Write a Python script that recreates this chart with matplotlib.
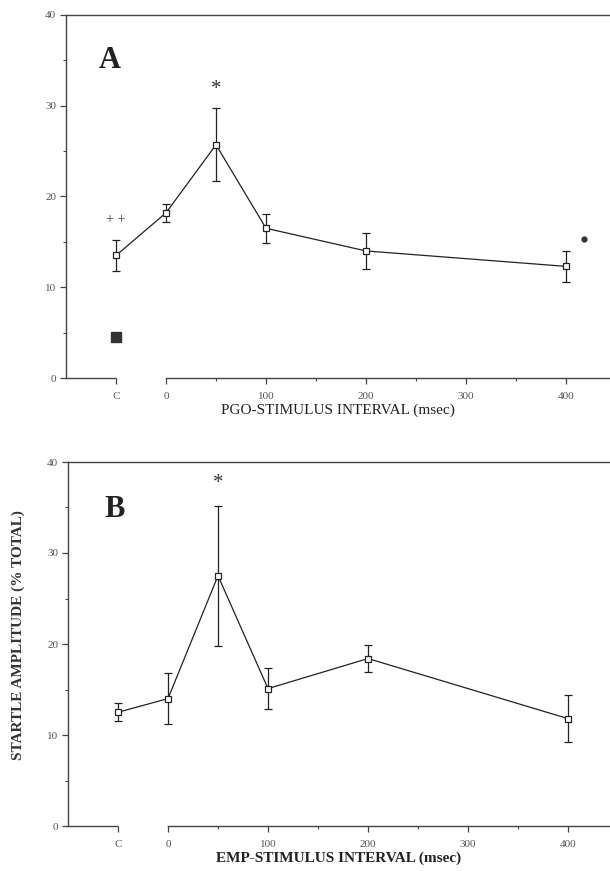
import matplotlib
matplotlib.use("Agg")
import matplotlib.pyplot as plt
from matplotlib.ticker import MultipleLocator, FixedLocator

# ---- data ----
tick_pos = [-50, 0, 100, 200, 300, 400]
tick_labels = ["C", "0", "100", "200", "300", "400"]

x_pts = [-50, 0, 50, 100, 200, 400]

a_mean = [13.5, 18.2, 25.7, 16.5, 14.0, 12.3]
a_err = [1.7, 1.0, 4.0, 1.6, 2.0, 1.7]
a_filled_x = [-50]
a_filled_y = [4.5]
a_speck_x = [418]
a_speck_y = [15.3]

b_mean = [12.5, 14.0, 27.5, 15.1, 18.4, 11.8]
b_err = [1.0, 2.8, 7.7, 2.25, 1.5, 2.6]

a_xlabel = "PGO-STIMULUS INTERVAL (msec)"
b_xlabel = "EMP-STIMULUS INTERVAL (msec)"
ylabel = "STARTLE AMPLITUDE (% TOTAL)"

SERIF = ["Liberation Serif", "DejaVu Serif"]
INK = "#222222"
TICKC = "#555555"

fig = plt.figure(figsize=(6.10, 8.71), dpi=100)
fig.patch.set_facecolor("white")

W, H = 610.0, 871.0


def make_ax(left_px, top_px, bottom_px, xleft, xright):
    ax = fig.add_axes([left_px / W, 1 - bottom_px / H, 1 - left_px / W,
                       (bottom_px - top_px) / H])
    ax.set_xlim(xleft, xright)
    ax.set_ylim(0, 40)
    ax.spines["right"].set_visible(False)
    for s in ("left", "top", "bottom"):
        ax.spines[s].set_color("#444444")
        ax.spines[s].set_linewidth(1.0)
    ax.spines["bottom"].set_bounds(0, xright)
    # extra bottom segment up to the control tick
    ax.plot([xleft, -50], [0, 0], color="#444444", lw=1.0, clip_on=False,
            solid_capstyle="butt")
    ax.xaxis.set_major_locator(FixedLocator(tick_pos))
    ax.set_xticklabels(tick_labels)
    ax.xaxis.set_minor_locator(FixedLocator([50, 150, 250, 350]))
    ax.yaxis.set_major_locator(MultipleLocator(10))
    ax.yaxis.set_minor_locator(MultipleLocator(5))
    ax.tick_params(axis="both", which="major", direction="out", length=4,
                   width=0.9, color="#444444", labelsize=8,
                   labelcolor=TICKC, pad=3)
    ax.tick_params(axis="both", which="minor", direction="out", length=2.5,
                   width=0.8, color="#444444")
    ax.tick_params(axis="x", which="major", pad=6)
    for lab in ax.get_xticklabels() + ax.get_yticklabels():
        lab.set_family(SERIF)
    return ax


def draw_series(ax, means, errs):
    ax.errorbar(x_pts, means, yerr=errs, color=INK, lw=0.9, elinewidth=0.9,
                capsize=3, capthick=0.9, marker="s", markersize=5,
                markerfacecolor="white", markeredgecolor=INK,
                markeredgewidth=0.9, zorder=3, clip_on=False)


# Panel A
axA = make_ax(66, 15, 378, -100, 444)
draw_series(axA, a_mean, a_err)
axA.plot(a_filled_x, a_filled_y, marker="s", markersize=7, color="#333333",
         linestyle="none")
axA.plot(a_speck_x, a_speck_y, marker="o", markersize=3.5, color="#333333",
         linestyle="none", clip_on=False)
axA.text(-50, 17.5, "+ +", ha="center", va="center", fontsize=10,
         family=SERIF, color="#444444")
axA.text(50, 31.8, "*", ha="center", va="center", fontsize=15,
         family=SERIF, color="#333333")
axA.text(-56, 35.0, "A", ha="center", va="center", fontsize=22,
         family=SERIF, fontweight="bold", color="#222222")
axA.set_xlabel(a_xlabel, family=SERIF, fontsize=11, color="#222222",
               labelpad=2)

# Panel B
axB = make_ax(68, 462, 826, -100, 442)
draw_series(axB, b_mean, b_err)
axB.text(50, 37.6, "*", ha="center", va="center", fontsize=15,
         family=SERIF, color="#333333")
axB.text(-53, 34.8, "B", ha="center", va="center", fontsize=22,
         family=SERIF, fontweight="bold", color="#222222")
axB.set_xlabel(b_xlabel, family=SERIF, fontsize=11, color="#222222",
               labelpad=2, fontweight="bold")
fig.text(18 / W, 1 - 635 / H, ylabel, rotation=90, ha="center", va="center",
         family=SERIF, fontsize=11, fontweight="bold", color="#333333")

fig.savefig("out.png", dpi=100, facecolor="white")
